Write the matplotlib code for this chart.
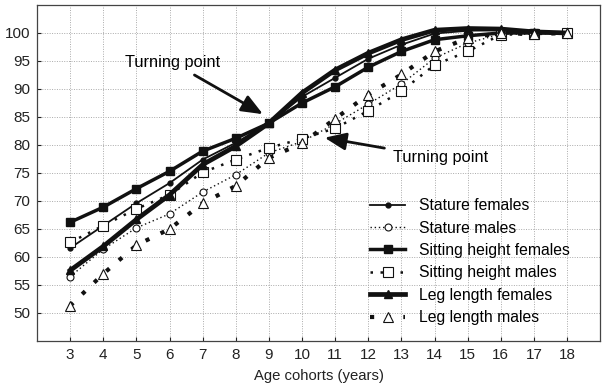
import matplotlib
matplotlib.use("Agg")
import matplotlib.pyplot as plt

ages = [3, 4, 5, 6, 7, 8, 9, 10, 11, 12, 13, 14, 15, 16, 17, 18]

stature_f = [61.6, 65.6, 69.6, 73.2, 77.4, 80.4, 83.9, 88.6, 92.0, 95.4, 97.9, 99.9, 100.4, 100.5, 100.1, 100.0]
stature_m = [56.5, 61.4, 65.2, 67.7, 71.6, 74.7, 78.6, 80.6, 83.8, 87.3, 90.9, 95.5, 98.2, 99.8, 99.8, 100.0]
sitting_f = [66.2, 68.9, 72.2, 75.3, 78.9, 81.2, 83.9, 87.5, 90.4, 93.9, 96.7, 98.8, 99.5, 100.0, 100.0, 100.0]
sitting_m = [62.6, 65.6, 68.6, 71.1, 75.1, 77.4, 79.5, 81.1, 83.0, 86.1, 89.6, 94.3, 96.7, 99.7, 99.8, 100.0]
leg_f = [57.6, 61.9, 66.7, 71.1, 76.5, 79.8, 83.9, 89.3, 93.4, 96.4, 98.8, 100.5, 100.8, 100.7, 100.2, 100.0]
leg_m = [51.3, 57.0, 62.1, 65.0, 69.6, 72.7, 77.7, 80.3, 84.7, 89.0, 92.6, 96.7, 99.1, 100.0, 99.8, 100.0]

labels = ["Stature females", "Stature males", "Sitting height females",
          "Sitting height males", "Leg length females", "Leg length males"]
yticks = [50, 55, 60, 65, 70, 75, 80, 85, 90, 95, 100]

plt.rcParams['font.family'] = ['Liberation Sans', 'DejaVu Sans']

fig = plt.figure(figsize=(6.03, 3.86), dpi=100)
ax = fig.add_axes([0.0614, 0.1166, 0.934, 0.8705])

c = "#111111"
ax.plot(ages, stature_f, color=c, lw=1.3, ls='-', marker='o', ms=3.5, mfc=c, label=labels[0])
ax.plot(ages, stature_m, color=c, lw=1.0, ls=(0, (1, 2)), marker='o', ms=5, mfc='white', mew=0.8, label=labels[1])
ax.plot(ages, sitting_f, color=c, lw=2.5, ls='-', marker='s', ms=6, mfc=c, label=labels[2])
ax.plot(ages, sitting_m, color=c, lw=1.8, ls=(0, (1, 3)), marker='s', ms=6.5, mfc='white', mew=0.8, label=labels[3])
ax.plot(ages, leg_f, color=c, lw=3.4, ls='-', marker='^', ms=6, mfc=c, label=labels[4])
ax.plot(ages, leg_m, color=c, lw=3.0, ls=(0, (1, 3)), marker='^', ms=7, mfc='white', mew=0.8, label=labels[5])

ax.set_xlim(2, 19)
ax.set_ylim(45, 105)
ax.set_xticks(ages)
ax.set_yticks(yticks)
ax.grid(True, color='#aaaaaa', ls=(0, (1, 1.5)), lw=0.7)
ax.set_axisbelow(True)
for s in ax.spines.values():
    s.set_color('#444444')
    s.set_linewidth(0.9)
ax.tick_params(direction='in', length=3, labelsize=11, colors='#222222', pad=5)
ax.set_xlabel("Age cohorts (years)", fontsize=10.7, color='#222222', labelpad=5)

arrow = dict(arrowstyle='-|>,head_length=1.1,head_width=0.45', color=c, lw=2.0, shrinkB=0)
ax.annotate("Turning point", xy=(8.82, 85.5), xytext=(6.1, 94.7),
            fontsize=11.8, ha='center', va='center',
            arrowprops=dict(arrow, shrinkA=3))
ax.annotate("Turning point", xy=(10.68, 81.3), xytext=(14.17, 77.7),
            fontsize=11.8, ha='center', va='center',
            arrowprops=dict(arrow, shrinkA=4))

leg = ax.legend(loc='upper left', bbox_to_anchor=(0.592, 0.425), frameon=False, fontsize=11.3,
                handlelength=2.2, labelspacing=0.47, handletextpad=0.9,
                borderpad=0, borderaxespad=0)

fig.savefig("out.png", dpi=100)
